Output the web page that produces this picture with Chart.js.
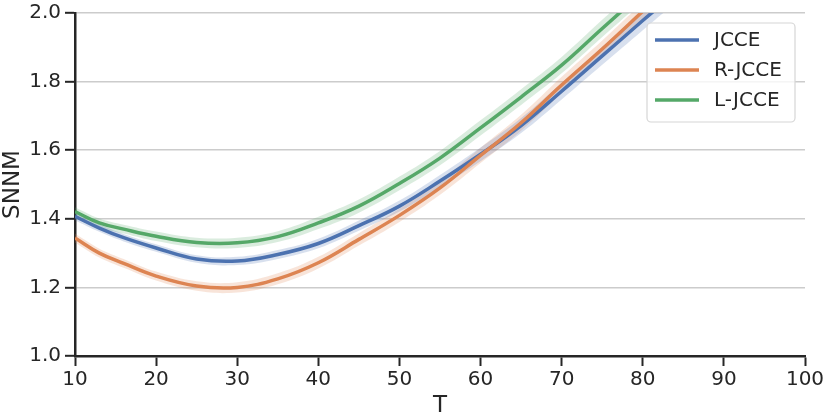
<!DOCTYPE html>
<html>
<head>
<meta charset="utf-8">
<script src="https://cdn.jsdelivr.net/npm/chart.js@4.4.1/dist/chart.umd.min.js"></script>
<style>
  html, body { margin: 0; padding: 0; background: #ffffff; }
  #wrap { width: 830px; height: 415px; }
</style>
</head>
<body>
<div id="wrap"><canvas id="c" width="830" height="415"></canvas></div>
<script>
// ---- data ----
const T = [10, 13, 16, 20, 25, 30, 35, 40, 45, 50, 55, 60, 65, 70, 75, 80, 85, 90];

const jcce   = [1.407, 1.373, 1.345, 1.315, 1.283, 1.277, 1.296, 1.328, 1.380, 1.437, 1.510, 1.588, 1.672, 1.772, 1.875, 1.978, 2.080, 2.190];
const rjcce  = [1.344, 1.300, 1.270, 1.233, 1.204, 1.200, 1.225, 1.272, 1.340, 1.410, 1.490, 1.585, 1.680, 1.790, 1.895, 2.005, 2.115, 2.225];
const ljcce  = [1.421, 1.388, 1.370, 1.349, 1.331, 1.330, 1.348, 1.388, 1.437, 1.503, 1.577, 1.665, 1.755, 1.848, 1.955, 2.060, 2.165, 2.270];

// half-width of the shaded bands
const jcceSpread  = [0.011, 0.011, 0.011, 0.011, 0.011, 0.012, 0.013, 0.014, 0.015, 0.016, 0.018, 0.020, 0.022, 0.024, 0.026, 0.028, 0.030, 0.032];
const rjcceSpread = [0.013, 0.013, 0.013, 0.013, 0.014, 0.015, 0.016, 0.017, 0.018, 0.019, 0.020, 0.022, 0.023, 0.024, 0.025, 0.026, 0.027, 0.028];
const ljcceSpread = [0.013, 0.013, 0.013, 0.014, 0.014, 0.015, 0.016, 0.018, 0.019, 0.020, 0.021, 0.022, 0.023, 0.024, 0.025, 0.026, 0.027, 0.028];

const seriesNames = ['JCCE', 'R-JCCE', 'L-JCCE'];
const xTicks = [10, 20, 30, 40, 50, 60, 70, 80, 90, 100];
const yTicks = [1.0, 1.2, 1.4, 1.6, 1.8, 2.0];

// ---- styling ----
const colors = ['#4c72b0', '#dd8452', '#55a868'];
const bandColors = ['rgba(76,114,176,0.22)', 'rgba(221,132,82,0.22)', 'rgba(85,168,104,0.22)'];
const FONT = "'DejaVu Sans', sans-serif";
const TEXT = '#262626';

function pts(vals) { return T.map((t, i) => ({ x: t, y: vals[i] })); }
function shift(vals, spr, s) { return vals.map((v, i) => v + s * spr[i]); }

const values = [jcce, rjcce, ljcce];
const spreads = [jcceSpread, rjcceSpread, ljcceSpread];

const datasets = [];
values.forEach((v, k) => {
  datasets.push({
    label: seriesNames[k] + ' hi', data: pts(shift(v, spreads[k], 1)),
    borderWidth: 0, pointRadius: 0, fill: '+1', backgroundColor: bandColors[k],
    borderColor: 'rgba(0,0,0,0)', tension: 0.4, order: 10
  });
  datasets.push({
    label: seriesNames[k] + ' lo', data: pts(shift(v, spreads[k], -1)),
    borderWidth: 0, pointRadius: 0, fill: false,
    borderColor: 'rgba(0,0,0,0)', tension: 0.4, order: 10
  });
});
values.forEach((v, k) => {
  datasets.push({
    label: seriesNames[k], data: pts(v), borderColor: colors[k], borderWidth: 3.5,
    pointRadius: 0, fill: false, tension: 0.4, order: 3 - k,
    borderCapStyle: 'butt', borderJoinStyle: 'round'
  });
});

const legendPlugin = {
  id: 'boxLegend',
  afterDatasetsDraw(chart) {
    const ctx = chart.ctx;
    const x0 = 647, y0 = 23, w = 148, h = 99, r = 4;
    ctx.save();
    ctx.beginPath();
    ctx.moveTo(x0 + r, y0);
    ctx.arcTo(x0 + w, y0, x0 + w, y0 + h, r);
    ctx.arcTo(x0 + w, y0 + h, x0, y0 + h, r);
    ctx.arcTo(x0, y0 + h, x0, y0, r);
    ctx.arcTo(x0, y0, x0 + w, y0, r);
    ctx.closePath();
    ctx.fillStyle = 'rgba(255,255,255,0.8)';
    ctx.fill();
    ctx.strokeStyle = '#d6d6d6';
    ctx.lineWidth = 1.2;
    ctx.stroke();
    seriesNames.forEach((name, k) => {
      const yy = 40 + k * 30;
      ctx.beginPath();
      ctx.moveTo(655, yy);
      ctx.lineTo(699, yy);
      ctx.strokeStyle = colors[k];
      ctx.lineWidth = 3.5;
      ctx.stroke();
      ctx.fillStyle = TEXT;
      ctx.font = '20px ' + FONT;
      ctx.textBaseline = 'middle';
      ctx.textAlign = 'left';
      ctx.fillText(name, 714, yy + 1);
    });
    ctx.restore();
  }
};

new Chart(document.getElementById('c'), {
  type: 'line',
  data: { datasets },
  options: {
    responsive: false,
    animation: false,
    devicePixelRatio: 1,
    layout: { padding: { left: 0, right: 25, top: 13, bottom: 0 } },
    plugins: { legend: { display: false }, tooltip: { enabled: false } },
    scales: {
      x: {
        type: 'linear', min: 10, max: 100,
        afterBuildTicks: (s) => { s.ticks = xTicks.map(v => ({ value: v })); },
        afterFit: (s) => { s.height = 59; s.paddingLeft = 0; s.paddingRight = 0; },
        ticks: { color: TEXT, font: { family: FONT, size: 20 }, padding: 2, maxRotation: 0,
                 callback: (v) => String(v) },
        grid: { drawOnChartArea: false, drawTicks: true, tickLength: 10, tickColor: TEXT, tickWidth: 2 },
        border: { display: true, color: TEXT, width: 2.5 },
        title: { display: true, text: 'T', color: TEXT, font: { family: FONT, size: 23, lineHeight: 0.8 }, padding: { top: 0, bottom: 0 } }
      },
      y: {
        type: 'linear', min: 1.0, max: 2.0,
        afterBuildTicks: (s) => { s.ticks = yTicks.map(v => ({ value: v })); },
        afterFit: (s) => { s.width = 75; s.paddingTop = 0; s.paddingBottom = 0; },
        ticks: { color: TEXT, font: { family: FONT, size: 20 }, padding: 4,
                 callback: (v) => Number(v).toFixed(1) },
        grid: { drawOnChartArea: true, color: '#cccccc', lineWidth: 1.6, drawTicks: true,
                tickLength: 10, tickColor: TEXT, tickWidth: 2 },
        border: { display: true, color: TEXT, width: 2.5 },
        title: { display: true, text: 'SNNM', color: TEXT, font: { family: FONT, size: 23, lineHeight: 0.8 }, padding: { top: 4, bottom: 0 } }
      }
    }
  },
  plugins: [legendPlugin]
});
</script>
</body>
</html>
